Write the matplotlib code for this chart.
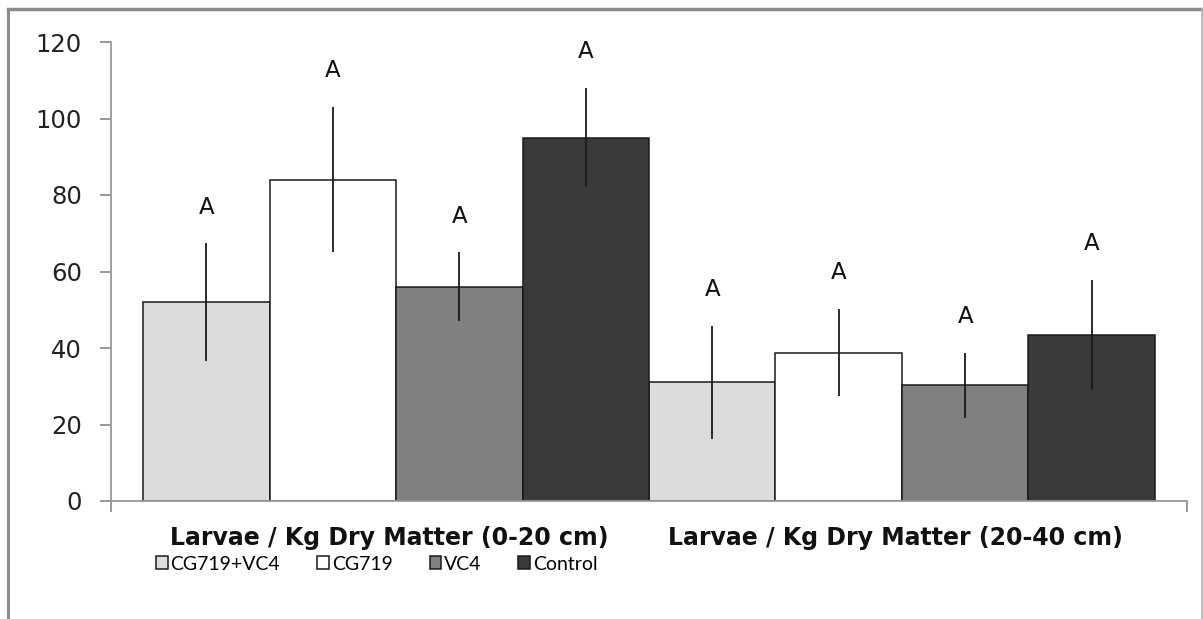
import numpy as np
import matplotlib
matplotlib.use('Agg')
import matplotlib.pyplot as plt
from matplotlib.lines import Line2D

# Data
categories = ['Larvae / Kg Dry Matter (0-20 cm)', 'Larvae / Kg Dry Matter (20-40 cm)']
series_names = ['CG719+VC4', 'CG719', 'VC4', 'Control']
cg_vc4 = [52, 31]
cg719 = [84, 38.8]
vc4 = [56, 30.3]
control = [95, 43.4]
cg_vc4_err = [15.4, 14.8]
cg719_err = [19, 11.4]
vc4_err = [9, 8.5]
control_err = [13, 14.4]
letters = [['A', 'A'], ['A', 'A'], ['A', 'A'], ['A', 'A']]

means = [cg_vc4, cg719, vc4, control]
errs = [cg_vc4_err, cg719_err, vc4_err, control_err]
colors = ['#dcdcdc', '#ffffff', '#808080', '#3a3a3a']

fig = plt.figure(figsize=(12.03, 6.19), dpi=100)
ax = fig.add_axes([111 / 1203, 1 - 501 / 619, (1187 - 111) / 1203, (501 - 42) / 619])

n_series = len(series_names)
handles = []
for s in range(n_series):
    for g in range(len(categories)):
        x = g * n_series + s
        b = ax.bar(x, means[s][g], width=1.0, color=colors[s], edgecolor='#1a1a1a',
                   linewidth=1.1, zorder=2)
        ax.errorbar(x, means[s][g], yerr=errs[s][g], fmt='none', ecolor='#1a1a1a',
                    elinewidth=1.3, capsize=0, zorder=3)
        ax.annotate(letters[s][g], (x, means[s][g] + errs[s][g]), textcoords='offset points',
                    xytext=(0, 26), ha='center', va='center', fontsize=16.5, color='#111111')
    handles.append(b)

ax.set_xlim(-0.753, 7.753)
ax.set_ylim(0, 120)
ax.set_yticks(np.arange(0, 121, 20))
ax.tick_params(axis='y', labelsize=17.5, colors='#888888', labelcolor='#222222',
               length=8, width=1.2, pad=13)
ax.set_xticks([-0.753, 7.753])
ax.set_xticklabels(['', ''])
ax.tick_params(axis='x', colors='#888888', length=8, width=1.2)
for sp in ['top', 'right']:
    ax.spines[sp].set_visible(False)
for sp in ['left', 'bottom']:
    ax.spines[sp].set_color('#999999')
    ax.spines[sp].set_linewidth(1.3)

# category labels
for g, cat in enumerate(categories):
    ax.text(g * n_series + 1.45, -0.08, cat, transform=ax.get_xaxis_transform(),
            ha='center', va='center', fontsize=17, fontweight='bold',
            family='DejaVu Sans', color='#111111')

fig.legend(handles, series_names, loc='center left', bbox_to_anchor=(156 / 1203, 1 - 564 / 619),
           ncol=4, frameon=False, handlelength=0.6, handleheight=0.6, handletextpad=0.15,
           columnspacing=1.9, borderpad=0, borderaxespad=0,
           prop={'family': 'Lato', 'size': 14})

# outer chart frame
fig.add_artist(Line2D([8 / 1203, 8 / 1203], [0, 1 - 9 / 619], transform=fig.transFigure,
                      color='#8c8c8c', linewidth=2.2))
fig.add_artist(Line2D([8 / 1203, 1202 / 1203], [1 - 9 / 619, 1 - 9 / 619],
                      transform=fig.transFigure, color='#8c8c8c', linewidth=2.5))
fig.add_artist(Line2D([1202 / 1203, 1202 / 1203], [0, 1 - 9 / 619], transform=fig.transFigure,
                      color='#b0b0b0', linewidth=1.2))

fig.savefig('out.png', dpi=100)
